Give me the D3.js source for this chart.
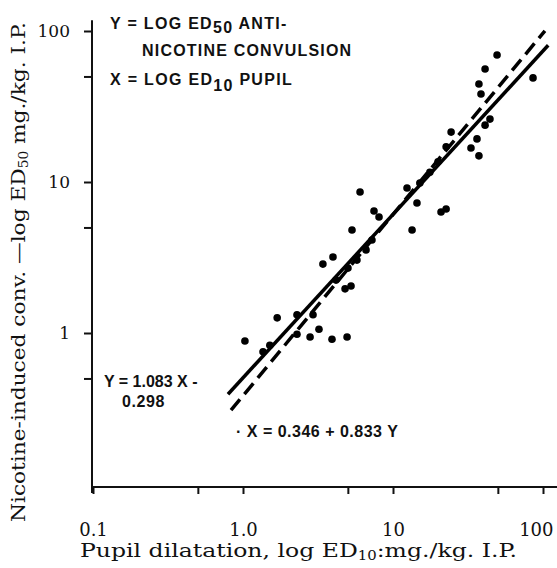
<!DOCTYPE html>
<html>
<head>
<meta charset="utf-8">
<script src="https://cdn.jsdelivr.net/npm/d3@7"></script>
<style>
  body { margin: 0; background: #fff; }
  svg { display: block; }
  .serif { font-family: "DejaVu Serif", serif; fill: #111; }
  .letter { font-family: "Liberation Sans", Arial, sans-serif; fill: #111; font-weight: bold; }
</style>
</head>
<body>
<div id="chart"></div>
<script>
// ED10 pupil (x) och ED50 anti-nikotin (y), mg/kg
const pupilED10 = [1.03, 1.36, 1.51, 1.69, 2.29, 2.93, 2.29, 2.80, 3.21, 3.92, 4.94,
  3.41, 3.98, 4.79, 5.25, 4.17, 5.33, 5.75, 7.24, 7.47, 8.07, 6.03, 5.01, 6.61,
  12.4, 14.45, 13.4, 20.9, 22.6, 15.1, 17.6, 19.95, 22.6, 24.4, 33.1, 37.4, 36.3,
  41.1, 44.3, 38.6, 37.4, 41.1, 49.4, 85.8];
const convED50 = [0.885, 0.75, 0.83, 1.26, 1.32, 1.32, 0.98, 0.94, 1.06, 0.91, 0.94,
  2.86, 3.19, 1.96, 2.05, 2.24, 4.81, 3.04, 4.13, 6.43, 5.86, 8.59, 2.69, 3.55,
  9.12, 7.26, 4.81, 6.33, 6.63, 9.85, 11.6, 13.6, 17.1, 21.4, 16.8, 14.9, 19.3,
  23.8, 26.1, 38.3, 44.6, 56.0, 69.3, 48.9];

// regressionslinjernas ändpunkter
const fitYonX = { x: [0.794, 108.3], y: [0.393, 80.4] };   // heldragen
const fitXonY = { x: [0.832, 103], y: [0.308, 100.3] };    // streckad

const xTicks = [0.1, 0.5, 1, 5, 10, 50, 100];
const xTickLabels = { 0.1: "0.1", 1: "1.0", 10: "10", 100: "100" };
const yTicks = [0.5, 1, 5, 10, 50, 100];
const yTickLabels = { 1: "1", 10: "10", 100: "100" };

const width = 557, height = 568;

const x = d3.scaleLog().domain([0.1, 100]).range([93, 543]);
const y = d3.scaleLog().domain([0.1, 100]).range([484, 31]);

const svg = d3.select("#chart").append("svg")
  .attr("width", width)
  .attr("height", height);

// axlar
const xAxis = d3.axisBottom(x)
  .tickValues(xTicks)
  .tickSize(7)
  .tickPadding(29)
  .tickFormat(d => xTickLabels[d] || "");

const yAxis = d3.axisLeft(y)
  .tickValues(yTicks)
  .tickSize(8)
  .tickPadding(14)
  .tickFormat(d => yTickLabels[d] || "");

const gx = svg.append("g")
  .attr("transform", `translate(0,487)`)
  .call(xAxis);
gx.select(".domain").remove();
gx.selectAll("line").attr("stroke", "#111").attr("stroke-width", 2);
gx.selectAll("text").attr("class", "serif").style("font-size", "18px").attr("fill", null);
// sista etiketten får inte klippas
gx.selectAll("text").filter(d => d === 100)
  .attr("text-anchor", "end").attr("x", 10);

const gy = svg.append("g")
  .attr("transform", `translate(92,0)`)
  .call(yAxis);
gy.select(".domain").remove();
gy.selectAll("line").attr("stroke", "#111").attr("stroke-width", 2);
gy.selectAll("text").attr("class", "serif").style("font-size", "17px").attr("fill", null);

// axellinjer
svg.append("line")
  .attr("x1", 92).attr("x2", 92)
  .attr("y1", y(118)).attr("y2", 493)
  .attr("stroke", "#111").attr("stroke-width", 2);
svg.append("line")
  .attr("x1", 92).attr("x2", x(125))
  .attr("y1", 487).attr("y2", 487)
  .attr("stroke", "#111").attr("stroke-width", 2);

// linjer
const lineGenerator = d3.line().x(d => x(d[0])).y(d => y(d[1]));

svg.append("path")
  .attr("d", lineGenerator(d3.zip(fitYonX.x, fitYonX.y)))
  .attr("stroke", "#000").attr("stroke-width", 3.5)
  .attr("fill", "none");

svg.append("path")
  .attr("d", lineGenerator(d3.zip(fitXonY.x, fitXonY.y)))
  .attr("stroke", "#000").attr("stroke-width", 3.5)
  .attr("stroke-dasharray", "14,7")
  .attr("fill", "none");

// punkter
svg.selectAll("circle")
  .data(d3.zip(pupilED10, convED50))
  .enter()
    .append("circle")
    .attr("cx", d => x(d[0]))
    .attr("cy", d => y(d[1]))
    .attr("r", 3.8)
    .attr("fill", "#000");

// text i diagrammet
function letter(xp, yp, parts, size, spacing) {
  const t = svg.append("text").attr("class", "letter")
    .attr("x", xp).attr("y", yp)
    .style("font-size", size + "px")
    .style("letter-spacing", spacing + "px");
  parts.forEach(p => {
    const s = t.append("tspan").text(p.t).style("font-size", size + "px");
    if (p.dy) s.attr("dy", p.dy);
  });
  return t;
}

letter(110, 29, [{ t: "Y = LOG ED" }, { t: "50", dy: 4 }, { t: " ANTI-", dy: -4 }], 16, 1.3);
letter(142, 56, [{ t: "NICOTINE CONVULSION" }], 16, 1.2);
letter(110, 85, [{ t: "X = LOG ED" }, { t: "10", dy: 6 }, { t: " PUPIL", dy: -6 }], 16, 1.3);

letter(104, 387, [{ t: "Y = 1.083 X -" }], 16, 0);
letter(122, 407, [{ t: "0.298" }], 16, 0.6);
letter(236, 437, [{ t: "· X = 0.346 + 0.833 Y" }], 16, 0.5);

// axeltitlar (bred antikva i originalet, därför sträckt)
const xt = svg.append("text").attr("class", "serif")
  .attr("x", 80).attr("y", 557)
  .attr("textLength", 437)
  .attr("lengthAdjust", "spacingAndGlyphs")
  .style("font-size", "19px");
xt.append("tspan").text("Pupil dilatation, log ED");
xt.append("tspan").text("10").attr("dy", 3).style("font-size", "12px");
xt.append("tspan").text(":mg./kg. I.P.").attr("dy", -3);

const yt = svg.append("text").attr("class", "serif")
  .attr("transform", "translate(25,522) rotate(-90)")
  .attr("textLength", 500)
  .attr("lengthAdjust", "spacingAndGlyphs")
  .style("font-size", "19px");
yt.append("tspan").text("Nicotine-induced conv. —log ED");
yt.append("tspan").text("50").attr("dy", 3).style("font-size", "12px");
yt.append("tspan").text(" mg./kg. I.P.").attr("dy", -3);
</script>
</body>
</html>
